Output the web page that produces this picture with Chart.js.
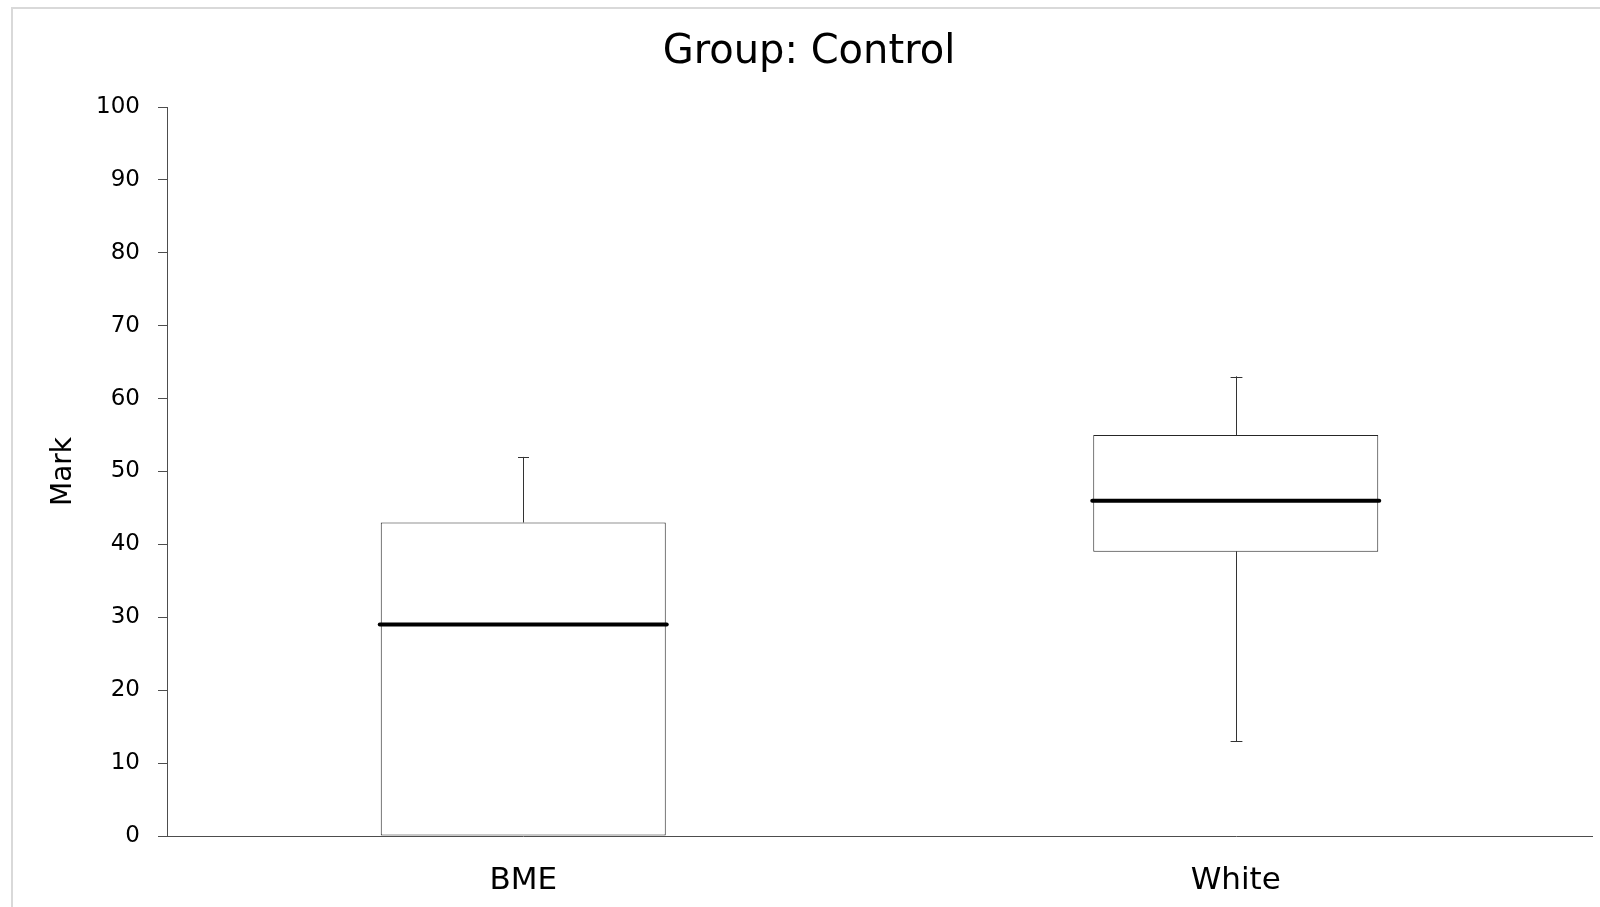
<!DOCTYPE html>
<html>
<head>
<meta charset="utf-8">
<script src="https://cdn.jsdelivr.net/npm/chart.js@4/dist/chart.umd.min.js"></script>
<style>
    html, body { margin: 0; padding: 0; background: #fff; }
    #frame { position: absolute; left: 11px; top: 7px; width: 1600px; height: 910px;
             border-top: 2px solid #d9d9d9; border-left: 2px solid #d9d9d9; }
    #wrap { position: absolute; left: 0; top: 0; width: 1600px; height: 907px; }
</style>
</head>
<body>
<div id="frame"></div>
<div id="wrap"><canvas id="boxChart"></canvas></div>
<script>
// values
const categories = ['BME', 'White'];
const minVals = [0, 13];
const q1Vals = [0, 39];
const medianVals = [29, 46];
const q3Vals = [43, 55];
const maxVals = [52, 63];

const yTicks = [0, 10, 20, 30, 40, 50, 60, 70, 80, 90, 100];

Chart.defaults.font.family = '"DejaVu Sans", Verdana, sans-serif';
Chart.defaults.color = '#000';

// whiskers + median drawn from the arrays above using the chart's own scales
const boxExtras = {
    id: 'boxExtras',
    afterDatasetsDraw(chart) {
        const ctx = chart.ctx;
        const y = chart.scales.y;
        const meta = chart.getDatasetMeta(0);
        ctx.save();
        meta.data.forEach(function (bar, i) {
            const x = Math.round(bar.x) + 0.5;
            const half = bar.width / 2;
            const capHalf = 5.5;

            ctx.strokeStyle = '#333333';
            ctx.lineWidth = 1;
            // upper whisker
            if (maxVals[i] > q3Vals[i]) {
                const yTop = y.getPixelForValue(maxVals[i]);
                ctx.beginPath();
                ctx.moveTo(x, y.getPixelForValue(q3Vals[i]));
                ctx.lineTo(x, yTop);
                ctx.moveTo(x - capHalf, Math.round(yTop) + 0.5);
                ctx.lineTo(x + capHalf, Math.round(yTop) + 0.5);
                ctx.stroke();
            }
            // lower whisker
            if (minVals[i] < q1Vals[i]) {
                const yBot = y.getPixelForValue(minVals[i]);
                ctx.beginPath();
                ctx.moveTo(x, y.getPixelForValue(q1Vals[i]));
                ctx.lineTo(x, yBot);
                ctx.moveTo(x - capHalf, Math.round(yBot) + 0.5);
                ctx.lineTo(x + capHalf, Math.round(yBot) + 0.5);
                ctx.stroke();
            }
            // median
            const yMed = y.getPixelForValue(medianVals[i]);
            ctx.strokeStyle = '#000';
            ctx.lineWidth = 4;
            ctx.lineCap = 'round';
            ctx.beginPath();
            ctx.moveTo(bar.x - half - 1, yMed);
            ctx.lineTo(bar.x + half + 1, yMed);
            ctx.stroke();
        });
        ctx.restore();
    }
};

const ctx = document.getElementById('boxChart');
const boxChart = new Chart(ctx, {
    type: 'bar',
    data: {
        labels: categories,
        datasets: [
            {
                label: 'IQR',
                data: q1Vals.map(function (q1, i) { return [q1, q3Vals[i]]; }),
                backgroundColor: '#ffffff',
                borderColor: '#262626',
                borderWidth: 1,
                borderSkipped: false,
                categoryPercentage: 1.0,
                barPercentage: 0.4
            }
        ]
    },
    options: {
        responsive: true,
        maintainAspectRatio: false,
        animation: false,
        layout: {
            padding: { left: 26, right: 8, top: 0, bottom: 0 }
        },
        plugins: {
            legend: { display: false },
            tooltip: { enabled: false },
            title: {
                display: true,
                text: 'Group: Control',
                color: '#000',
                font: { size: 40, weight: 'normal' },
                padding: { top: 29, bottom: 30 }
            }
        },
        scales: {
            x: {
                grid: {
                    display: false,
                    drawTicks: false
                },
                border: { display: true, color: '#4d4d4d', width: 1 },
                ticks: {
                    color: '#000',
                    font: { size: 31 },
                    padding: 26
                },
                afterFit: function (scale) { scale.height = 71; }
            },
            y: {
                min: 0,
                max: 100,
                afterBuildTicks: function (scale) {
                    scale.ticks = yTicks.map(function (v) { return { value: v }; });
                },
                grid: {
                    drawOnChartArea: false,
                    drawTicks: true,
                    tickLength: 9,
                    color: '#4d4d4d'
                },
                border: { display: true, color: '#4d4d4d', width: 1 },
                ticks: {
                    color: '#000',
                    font: { size: 23 },
                    padding: 18
                },
                title: {
                    display: true,
                    text: 'Mark',
                    color: '#000',
                    font: { size: 28 },
                    padding: { top: 21, bottom: 0 }
                },
                afterFit: function (scale) { scale.width = 141; }
            }
        }
    },
    plugins: [boxExtras]
});
</script>
</body>
</html>
